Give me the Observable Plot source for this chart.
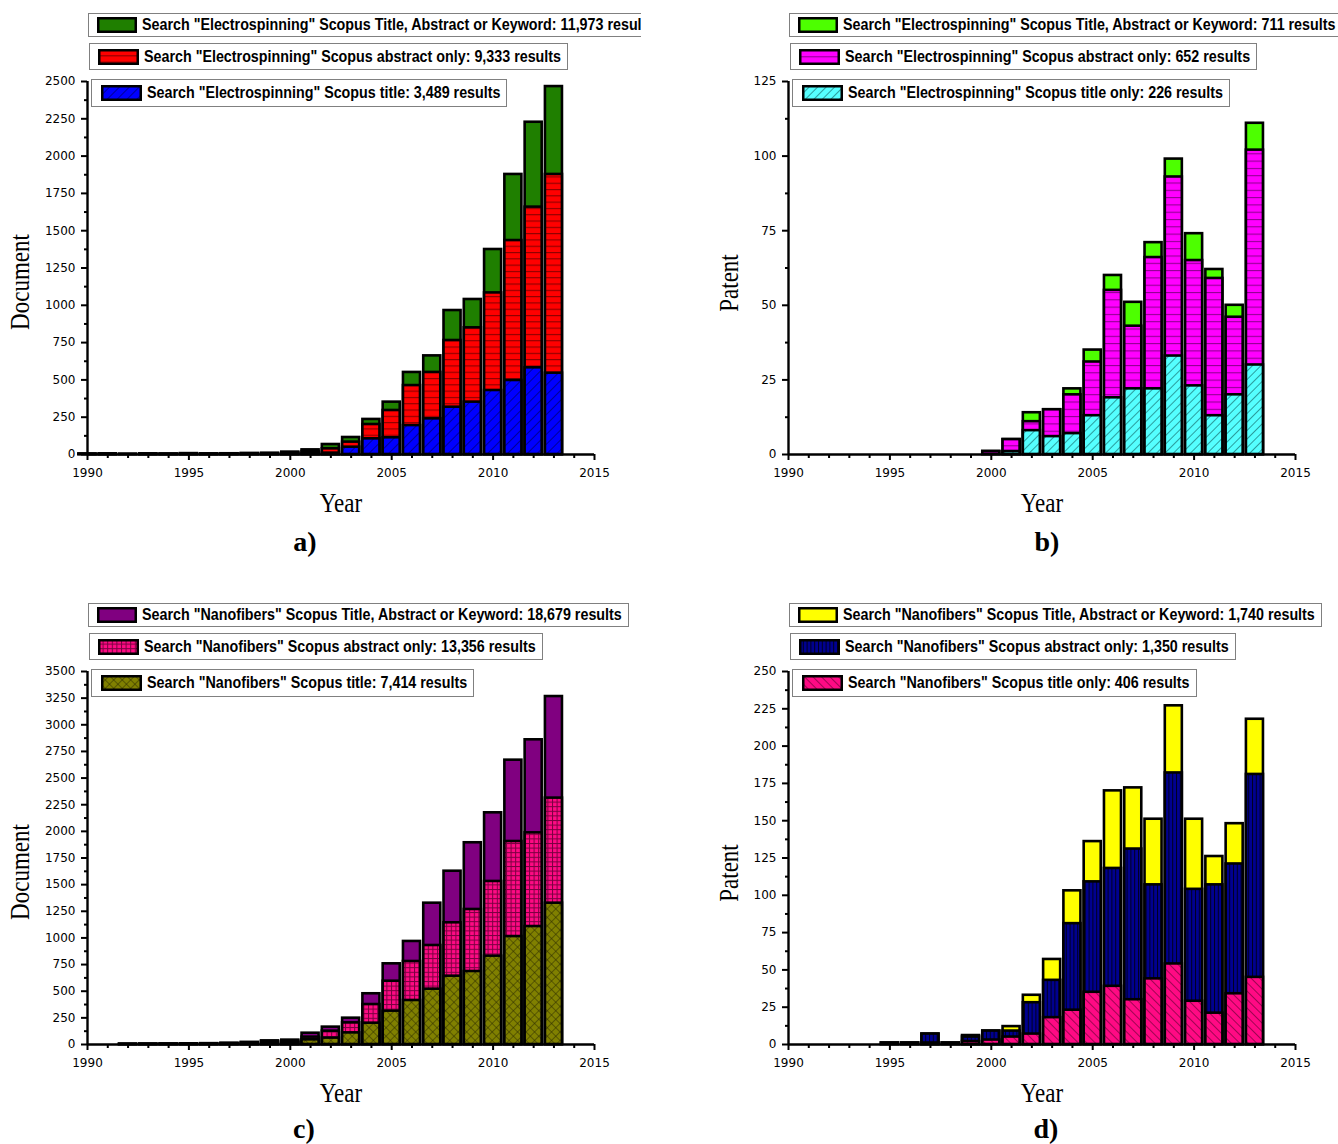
<!DOCTYPE html>
<html>
<head>
<meta charset="utf-8">
<script src="https://cdn.jsdelivr.net/npm/d3@7"></script>
<script src="https://cdn.jsdelivr.net/npm/@observablehq/plot@0.6"></script>
<style>
  body { margin: 0; background: #fff; }
  #page { position: relative; width: 1338px; height: 1144px; overflow: hidden; background: #fff; }
  .panel { position: absolute; overflow: hidden; }
  .panel > svg { position: absolute; left: 0; top: 0; }
  .lab { position: absolute; font-family: "Liberation Serif", serif; white-space: nowrap; color: #000; line-height: 1; }
  .leg { position: absolute; border: 1px solid #808080; background: #fff; box-sizing: border-box; white-space: nowrap; }
  .leg svg { position: absolute; }
  .leg .txt { position: absolute; font-family: "Liberation Sans Narrow", "Liberation Sans", sans-serif; font-weight: bold; font-size: 17px; line-height: 1; transform-origin: 0 50%; color: #000; }
</style>
</head>
<body>
<svg width="0" height="0" style="position:absolute">
  <defs>
    <pattern id="pBlue" patternUnits="userSpaceOnUse" width="7" height="7" patternTransform="rotate(45)">
      <rect width="7" height="7" fill="#0000ff"/><line x1="0" y1="0" x2="0" y2="7" stroke="#000050" stroke-width="1.2"/>
    </pattern>
    <pattern id="pRed" patternUnits="userSpaceOnUse" width="8" height="6.3">
      <rect width="8" height="6.3" fill="#ff0000"/><line x1="0" y1="0.5" x2="8" y2="0.5" stroke="#8b0000" stroke-width="1.2"/>
    </pattern>
    <pattern id="pCyan" patternUnits="userSpaceOnUse" width="6" height="6" patternTransform="rotate(45)">
      <rect width="6" height="6" fill="#55ffff"/><line x1="0" y1="0" x2="0" y2="6" stroke="#003c3c" stroke-width="1"/>
    </pattern>
    <pattern id="pMag" patternUnits="userSpaceOnUse" width="8" height="7.3">
      <rect width="8" height="7.3" fill="#ff00ff"/><line x1="0" y1="0.5" x2="8" y2="0.5" stroke="#900090" stroke-width="1.1"/>
    </pattern>
    <pattern id="pGrid" patternUnits="userSpaceOnUse" width="4.6" height="4.6">
      <rect width="4.6" height="4.6" fill="#ff0a84"/>
      <line x1="0" y1="0.5" x2="4.6" y2="0.5" stroke="#7a0040" stroke-width="1"/>
      <line x1="0.5" y1="0" x2="0.5" y2="4.6" stroke="#7a0040" stroke-width="1"/>
    </pattern>
    <pattern id="pOlive" patternUnits="userSpaceOnUse" width="6" height="6" patternTransform="rotate(45)">
      <rect width="6" height="6" fill="#808000"/>
      <line x1="0" y1="0" x2="0" y2="6" stroke="#2a2a00" stroke-width="1"/>
      <line x1="0" y1="0" x2="6" y2="0" stroke="#2a2a00" stroke-width="1"/>
    </pattern>
    <pattern id="pNavy" patternUnits="userSpaceOnUse" width="3.8" height="8">
      <rect width="3.8" height="8" fill="#000090"/><line x1="0.5" y1="0" x2="0.5" y2="8" stroke="#000020" stroke-width="1"/>
    </pattern>
    <pattern id="pPinkD" patternUnits="userSpaceOnUse" width="6" height="6" patternTransform="rotate(-45)">
      <rect width="6" height="6" fill="#ff0a84"/><line x1="0" y1="0" x2="0" y2="6" stroke="#500028" stroke-width="1.1"/>
    </pattern>
  </defs>
</svg>
<div id="page"></div>
<script>
// ---------- data ----------
const yearsAll = [1990,1991,1992,1993,1994,1995,1996,1997,1998,1999,2000,2001,2002,2003,2004,2005,2006,2007,2008,2009,2010,2011,2012,2013];

// a) Electrospinning, Scopus documents
const elecDocTotal    = [3,4,2,4,3,6,4,5,7,8,16,31,67,114,235,351,550,661,965,1039,1374,1877,2227,2466];
const elecDocAbstract = [2,3,1,3,2,4,3,4,5,6,10,20,38,83,201,295,462,550,764,849,1083,1434,1658,1877];
const elecDocTitle    = [1,1,0,1,1,2,1,1,2,2,3,5,9,49,105,112,194,239,317,351,429,496,581,545];

// b) Electrospinning, patents
const yearsElecPat    = [2000,2001,2002,2003,2004,2005,2006,2007,2008,2009,2010,2011,2012,2013];
const elecPatTotal    = [1,5,14,15,22,35,60,51,71,99,74,62,50,111];
const elecPatAbstract = [1,5,11,15,20,31,55,43,66,93,65,59,46,102];
const elecPatTitle    = [0,1,8,6,7,13,19,22,22,33,23,13,20,30];

// c) Nanofibers, Scopus documents
const nanoDocTotal    = [0,0,3,4,5,6,8,12,20,34,41,106,163,247,476,757,967,1326,1626,1893,2174,2668,2859,3265];
const nanoDocAbstract = [0,0,2,3,3,4,5,8,14,25,30,69,125,203,375,594,779,929,1142,1267,1530,1905,1986,2312];
const nanoDocTitle    = [0,0,1,1,2,2,3,4,6,10,15,44,60,109,200,313,413,519,641,685,829,1013,1107,1326];

// d) Nanofibers, patents
const yearsNanoPat    = [1995,1996,1997,1998,1999,2000,2001,2002,2003,2004,2005,2006,2007,2008,2009,2010,2011,2012,2013];
const nanoPatTotal    = [1,1,7,1,6,9,12,33,57,103,136,170,172,151,227,151,126,148,218];
const nanoPatAbstract = [1,1,7,1,5,9,9,28,43,81,109,118,131,107,182,104,107,121,181];
const nanoPatTitle    = [0,0,1,0,2,3,5,7,18,23,35,39,30,44,54,29,21,34,45];

const xMajor = [1990,1995,2000,2005,2010,2015];
const xMinor = [1991,1992,1993,1994,1996,1997,1998,1999,2001,2002,2003,2004,2006,2007,2008,2009,2011,2012,2013,2014];
const yMajorDoc  = [0,250,500,750,1000,1250,1500,1750,2000,2250,2500];
const yMajorDoc2 = [0,250,500,750,1000,1250,1500,1750,2000,2250,2500,2750,3000,3250,3500];
const yMajorPatB = [0,25,50,75,100,125];
const yMajorPatD = [0,25,50,75,100,125,150,175,200,225,250];

const legendA = [
  ['Search "Electrospinning" Scopus Title, Abstract or Keyword: 11,973 results', "#1f7f00"],
  ['Search "Electrospinning" Scopus abstract only: 9,333 results', "url(#pRed)"],
  ['Search "Electrospinning" Scopus title: 3,489 results', "url(#pBlue)"]
];
const legendB = [
  ['Search "Electrospinning" Scopus Title, Abstract or Keyword: 711 results', "#4dff00"],
  ['Search "Electrospinning" Scopus abstract only: 652 results', "url(#pMag)"],
  ['Search "Electrospinning" Scopus title only: 226 results', "url(#pCyan)"]
];
const legendC = [
  ['Search "Nanofibers" Scopus Title, Abstract or Keyword: 18,679 results', "#800080"],
  ['Search "Nanofibers" Scopus abstract only: 13,356 results', "url(#pGrid)"],
  ['Search "Nanofibers" Scopus title: 7,414 results', "url(#pOlive)"]
];
const legendD = [
  ['Search "Nanofibers" Scopus Title, Abstract or Keyword: 1,740 results', "#ffff00"],
  ['Search "Nanofibers" Scopus abstract only: 1,350 results', "url(#pNavy)"],
  ['Search "Nanofibers" Scopus title only: 406 results', "url(#pPinkD)"]
];

// ---------- drawing ----------
const page = document.getElementById("page");

function minorOf(major) {
  const out = [];
  for (let i = 0; i < major.length - 1; i++) out.push((major[i] + major[i + 1]) / 2);
  return out;
}

function makeChart(years, total, abstract, title, legend, yMajor) {
  const rows = years.map((year, i) => ({year, total: total[i], abstract: abstract[i], title: title[i]}));
  const ymax = yMajor[yMajor.length - 1];
  const half = 0.42;
  const barOpts = (key, fill) => ({x1: d => d.year - half, x2: d => d.year + half, y1: 0, y2: key, fill, stroke: "black", strokeWidth: 2.6});
  const fmt = d => String(d);
  return Plot.plot({
    width: 637, height: 480,
    marginLeft: 87, marginRight: 43, marginTop: 81, marginBottom: 26,
    style: {fontFamily: "DejaVu Sans", fontSize: "12px", background: "transparent", overflow: "visible"},
    x: {domain: [1990, 2015], axis: null},
    y: {domain: [0, ymax], axis: null},
    marks: [
      Plot.rectY(rows, barOpts("total", legend[0][1])),
      Plot.rectY(rows, barOpts("abstract", legend[1][1])),
      Plot.rectY(rows, barOpts("title", legend[2][1])),
      Plot.ruleX([1990], {y1: 0, y2: ymax, strokeWidth: 2.4}),
      Plot.ruleY([0], {x1: 1990, x2: 2015, strokeWidth: 2.4}),
      Plot.axisY({ticks: yMajor, tickSize: 6, tickPadding: 6, tickFormat: fmt, strokeWidth: 2, fontSize: 12, label: null, letterSpacing: 0.6}),
      Plot.axisY({ticks: minorOf(yMajor), tickSize: 3, tickFormat: () => "", strokeWidth: 2, label: null}),
      Plot.axisX({ticks: xMajor, tickSize: 6, tickPadding: 8, tickFormat: fmt, strokeWidth: 2, fontSize: 12, label: null, letterSpacing: 0.6}),
      Plot.axisX({ticks: xMinor, tickSize: 4, tickFormat: () => "", strokeWidth: 2, label: null})
    ]
  });
}

function addLabel(text, cx, cy, css, transform) {
  const el = document.createElement("div");
  el.className = "lab";
  el.textContent = text;
  Object.assign(el.style, css);
  el.style.left = cx + "px";
  el.style.top = cy + "px";
  el.style.transform = "translate(-50%,-50%) " + (transform || "");
  page.appendChild(el);
}

// measure legend text
const probe = document.createElement("span");
probe.style.cssText = "position:absolute;visibility:hidden;font-family:'Liberation Sans Narrow','Liberation Sans',sans-serif;font-weight:bold;font-size:17px;white-space:nowrap";
document.body.appendChild(probe);
function textWidth(t) { probe.textContent = t; return probe.getBoundingClientRect().width; }
const legendScale = 417 / textWidth(legendA[1][0]);

const boxGeom = [
  {left: 1, top: 13, h: 24, sw: 40, sx: 8},
  {left: 2, top: 43, h: 27, sw: 41, sx: 8},
  {left: 4, top: 79, h: 28, sw: 41, sx: 9}
];

function addLegend(panel, legend) {
  legend.forEach(([text, fill], i) => {
    const g = boxGeom[i];
    const tw = textWidth(text) * legendScale;
    const box = document.createElement("div");
    box.className = "leg";
    box.style.left = (87 + g.left) + "px";
    box.style.top = g.top + "px";
    box.style.height = g.h + "px";
    const textLeft = g.sx + g.sw + 5;
    box.style.width = (textLeft + tw + 8) + "px";
    const sh = 16;
    const sy = (g.h - 2 - sh) / 2;
    box.innerHTML = `<svg width="${g.sw}" height="${sh}" style="left:${g.sx}px;top:${sy}px"><rect x="1.25" y="1.25" width="${g.sw - 2.5}" height="${sh - 2.5}" fill="${fill}" stroke="black" stroke-width="2.5"/></svg>`;
    const span = document.createElement("span");
    span.className = "txt";
    span.textContent = text;
    span.style.left = textLeft + "px";
    span.style.top = ((g.h - 2) / 2 - 9) + "px";
    span.style.height = "18px";
    span.style.lineHeight = "18px";
    span.style.transform = `scaleX(${legendScale})`;
    box.appendChild(span);
    panel.appendChild(box);
  });
}

function addPanel(left, top, width, chart, legend) {
  const p = document.createElement("div");
  p.className = "panel";
  p.style.left = left + "px";
  p.style.top = top + "px";
  p.style.width = width + "px";
  p.style.height = "590px";
  p.appendChild(chart);
  addLegend(p, legend);
  page.appendChild(p);
}

addPanel(0, 0, 641, makeChart(yearsAll, elecDocTotal, elecDocAbstract, elecDocTitle, legendA, yMajorDoc), legendA);
addPanel(701, 0, 637, makeChart(yearsElecPat, elecPatTotal, elecPatAbstract, elecPatTitle, legendB, yMajorPatB), legendB);
addPanel(0, 590, 660, makeChart(yearsAll, nanoDocTotal, nanoDocAbstract, nanoDocTitle, legendC, yMajorDoc2), legendC);
addPanel(701, 590, 637, makeChart(yearsNanoPat, nanoPatTotal, nanoPatAbstract, nanoPatTitle, legendD, yMajorPatD), legendD);

const axisFont = {fontSize: "23px"};
addLabel("Year", 341, 503, axisFont, "scale(1,1.18)");
addLabel("Year", 1042, 503, axisFont, "scale(1,1.18)");
addLabel("Year", 341, 1093, axisFont, "scale(1,1.18)");
addLabel("Year", 1042, 1093, axisFont, "scale(1,1.18)");
addLabel("Document", 20, 282, axisFont, "rotate(-90deg) scale(1,1.18)");
addLabel("Patent", 729, 283, axisFont, "rotate(-90deg) scale(1,1.18)");
addLabel("Document", 20, 872, axisFont, "rotate(-90deg) scale(1,1.18)");
addLabel("Patent", 729, 873, axisFont, "rotate(-90deg) scale(1,1.18)");
const pl = {fontSize: "28px", fontWeight: "bold"};
addLabel("a)", 305, 542, pl);
addLabel("b)", 1047, 542, pl);
addLabel("c)", 304, 1129, pl);
addLabel("d)", 1046, 1129, pl);
</script>
</body>
</html>
